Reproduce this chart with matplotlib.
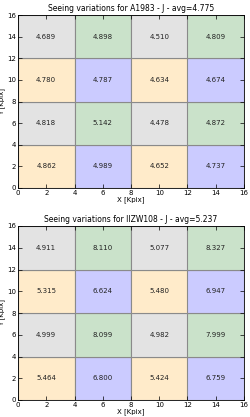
import numpy as np
import matplotlib
matplotlib.use("Agg")
import matplotlib.pyplot as plt
from matplotlib.patches import Rectangle

# grid cells are 4 Kpix wide, values listed row by row from the bottom
x_edges = [0, 4, 8, 12, 16]
y_edges = [0, 4, 8, 12, 16]

titles = ["Seeing variations for A1983 - J - avg=4.775",
          "Seeing variations for IIZW108 - J - avg=5.237"]

seeing_a1983 = [
    [4.862, 4.989, 4.652, 4.737],
    [4.818, 5.142, 4.478, 4.872],
    [4.780, 4.787, 4.634, 4.674],
    [4.689, 4.898, 4.510, 4.809],
]
seeing_iizw108 = [
    [5.464, 6.800, 5.424, 6.759],
    [4.999, 8.099, 4.982, 7.999],
    [5.315, 6.624, 5.480, 6.947],
    [4.911, 8.110, 5.077, 8.327],
]

# cell colours (per row from bottom): even rows peach/blue, odd rows grey/green
row_colors = [["#ffebca", "#cbcbff"], ["#e3e3e3", "#cae2ca"]]

fig = plt.figure(figsize=(2.51, 4.17), dpi=100)
ax1 = fig.add_axes([18/251, 1 - 188/417, 226/251, 173/417])
ax2 = fig.add_axes([18/251, 1 - 400/417, 226/251, 174/417])

for ax, vals, title in zip([ax1, ax2], [seeing_a1983, seeing_iizw108], titles):
    for j in range(4):
        for i in range(4):
            x0, x1 = x_edges[i], x_edges[i + 1]
            y0, y1 = y_edges[j], y_edges[j + 1]
            c = row_colors[j % 2][i % 2]
            ax.add_patch(Rectangle((x0, y0), x1 - x0, y1 - y0, facecolor=c,
                                   edgecolor="#8a8a8a", linewidth=0.8))
            ax.text((x0 + x1) / 2, (y0 + y1) / 2, "%.3f" % vals[j][i],
                    ha="center", va="center", fontsize=5, color="#222222")
    ax.set_xlim(0, 16)
    ax.set_ylim(0, 16)
    ax.set_xticks(range(0, 17, 2))
    ax.set_yticks(range(0, 17, 2))
    ax.tick_params(direction="in", top=True, right=True, labelsize=5,
                   length=3, width=0.5, pad=1.5)
    for s in ax.spines.values():
        s.set_linewidth(0.6)
    ax.set_title(title, fontsize=5.5, pad=3)
    ax.set_xlabel("X [Kpix]", fontsize=5, labelpad=0)
    ax.set_ylabel("Y [Kpix]", fontsize=5, labelpad=1)

fig.savefig("out.png", dpi=100)
